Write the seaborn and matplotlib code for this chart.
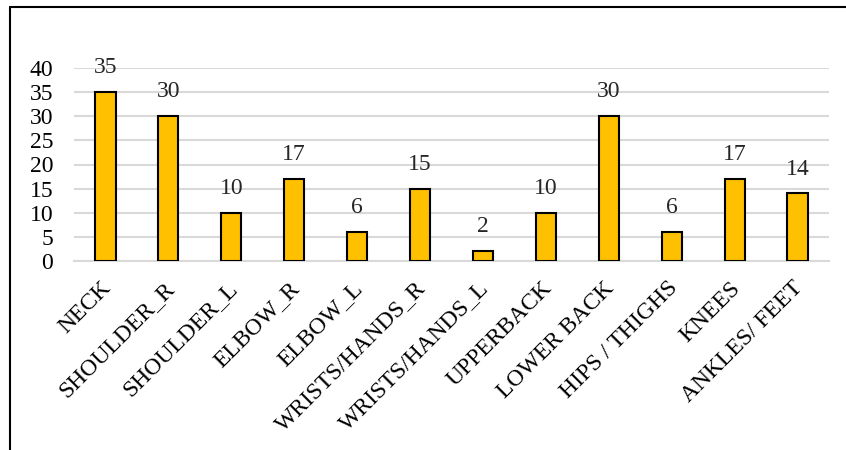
import matplotlib
matplotlib.use("Agg")
import matplotlib.pyplot as plt
import matplotlib.transforms as mtransforms
import seaborn as sns
import pandas as pd

categories = ["NECK", "SHOULDER_R", "SHOULDER_L", "ELBOW_R", "ELBOW_L", "WRISTS/HANDS_R",
              "WRISTS/HANDS_L", "UPPERBACK", "LOWER BACK", "HIPS / THIGHS", "KNEES", "ANKLES/ FEET"]
values = [35, 30, 10, 17, 6, 15, 2, 10, 30, 6, 17, 14]
yticks = [0, 5, 10, 15, 20, 25, 30, 35, 40]

sns.set_theme(style="white")
plt.rcParams['font.family'] = ['Liberation Serif', 'DejaVu Serif']

df = pd.DataFrame({"cat": categories, "val": values})

fig = plt.figure(figsize=(8.46, 4.5), dpi=100)
ax = fig.add_axes([74/846, 1 - 261/450, (829-74)/846, (261-68)/450])

sns.barplot(data=df, x="cat", y="val", color="#FFC000", width=0.32,
            edgecolor="black", linewidth=1.5, saturation=1, ax=ax, zorder=3)

ax.set_ylim(0, 40)
ax.set_xlim(-0.5, len(categories) - 0.5)
ax.set_yticks(yticks)
ax.yaxis.grid(True, color="#d9d9d9", linewidth=1.5, zorder=0)
ax.set_axisbelow(True)
for s in ["top", "right", "left"]:
    ax.spines[s].set_visible(False)
ax.spines["bottom"].set_color("#d9d9d9")
ax.spines["bottom"].set_linewidth(1.5)
ax.set_xlabel("")
ax.set_ylabel("")
ax.tick_params(axis="y", length=0, labelsize=17, colors="black", pad=15)
ax.tick_params(axis="x", length=0, labelsize=17, colors="black", pad=12)
ax.set_xticks(range(len(categories)))
ax.set_xticklabels(categories, rotation=45, ha="right", va="top", rotation_mode="anchor")
offset = mtransforms.ScaledTranslation(-5/100, 0, fig.dpi_scale_trans)
for lab in ax.get_xticklabels():
    lab.set_transform(lab.get_transform() + offset)

for i, v in enumerate(values):
    ax.annotate(str(v), (i, v), xytext=(0, 10), textcoords="offset points",
                ha="center", va="bottom", fontsize=17)

# frame lines (left and top)
fig.add_artist(plt.Line2D([10/846, 10/846], [0, 1 - 7/450], color="black", linewidth=1.5))
fig.add_artist(plt.Line2D([10/846, 1], [1 - 7/450, 1 - 7/450], color="black", linewidth=1.5))

fig.savefig("out.png", dpi=100)
